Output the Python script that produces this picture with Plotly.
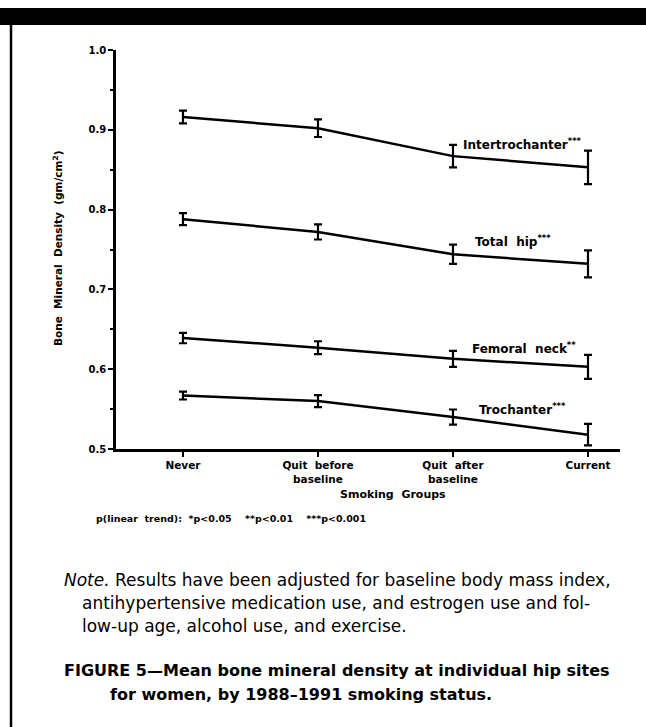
import plotly.graph_objects as go

categories = ["Never", "Quit  before<br>baseline", "Quit  after<br>baseline", "Current"]
cat_pos = [0, 1, 2, 3]

site_names = ["Intertrochanter", "Total  hip", "Femoral  neck", "Trochanter"]
site_stars = ["***", "***", "**", "***"]

intertrochanter = [0.916, 0.902, 0.867, 0.853]
intertrochanter_err = [0.008, 0.011, 0.014, 0.021]
total_hip = [0.788, 0.772, 0.744, 0.732]
total_hip_err = [0.0075, 0.0095, 0.012, 0.017]
femoral_neck = [0.639, 0.627, 0.613, 0.603]
femoral_neck_err = [0.0065, 0.008, 0.010, 0.015]
trochanter = [0.567, 0.560, 0.540, 0.518]
trochanter_err = [0.005, 0.0075, 0.0095, 0.0135]

y_tick_vals = [0.5, 0.6, 0.7, 0.8, 0.9, 1.0]
y_tick_text = ["0.5", "0.6", "0.7", "0.8", "0.9", "1.0"]

series = [intertrochanter, total_hip, femoral_neck, trochanter]
errors = [intertrochanter_err, total_hip_err, femoral_neck_err, trochanter_err]

W, H = 646, 727
L, R, T, B = 116, 620, 50, 449

def px(x):
    return (x - L) / (R - L)

def py(y):
    return (B - y) / (B - T)

HEAVY = "DejaVu Sans"
BODY = "DejaVu Sans"

fig = go.Figure()
for vals, errs, name in zip(series, errors, site_names):
    fig.add_trace(go.Scatter(
        x=cat_pos, y=vals, mode="lines", name=name,
        line=dict(color="black", width=2.5),
        error_y=dict(type="data", array=errs, visible=True,
                     color="black", thickness=2.2, width=4),
        showlegend=False, hoverinfo="skip",
    ))

# label positions (pixels) for each series
label_pos = [(461, 144), (473, 241), (470, 348), (477, 409)]
annotations = []
for (lx, ly), name, st in zip(label_pos, site_names, site_stars):
    annotations.append(dict(
        x=px(lx), y=py(ly), xref="paper", yref="paper",
        text=f"<b>{name}<sup>{st}</sup></b>", showarrow=False,
        xanchor="left", yanchor="middle",
        font=dict(family=HEAVY, size=12, color="black"),
    ))

annotations += [
    dict(x=px(57), y=py(249), xref="paper", yref="paper", textangle=-90,
         text="<b>Bone  Mineral  Density  (gm/cm<sup>2</sup>)</b>", showarrow=False,
         xanchor="center", yanchor="middle",
         font=dict(family=HEAVY, size=10.5, color="black")),
    dict(x=px(393), y=py(494), xref="paper", yref="paper",
         text="<b>Smoking  Groups</b>", showarrow=False,
         xanchor="center", yanchor="middle",
         font=dict(family=HEAVY, size=11, color="black")),
    dict(x=px(94), y=py(518), xref="paper", yref="paper",
         text="<b>p(linear  trend):  *p<0.05    **p<0.01    ***p<0.001</b>", showarrow=False,
         xanchor="left", yanchor="middle",
         font=dict(family=HEAVY, size=9.5, color="black")),
    dict(x=px(62), y=py(580), xref="paper", yref="paper",
         text="<i>Note.</i> Results have been adjusted for baseline body mass index,", showarrow=False,
         xanchor="left", yanchor="middle",
         font=dict(family=BODY, size=17, color="black")),
    dict(x=px(80), y=py(603), xref="paper", yref="paper",
         text="antihypertensive medication use, and estrogen use and fol-", showarrow=False,
         xanchor="left", yanchor="middle",
         font=dict(family=BODY, size=17, color="black")),
    dict(x=px(80), y=py(626), xref="paper", yref="paper",
         text="low-up age, alcohol use, and exercise.", showarrow=False,
         xanchor="left", yanchor="middle",
         font=dict(family=BODY, size=17, color="black")),
    dict(x=px(62), y=py(670), xref="paper", yref="paper",
         text="<b>FIGURE 5—Mean bone mineral density at individual hip sites</b>", showarrow=False,
         xanchor="left", yanchor="middle",
         font=dict(family=HEAVY, size=16, color="black")),
    dict(x=px(108), y=py(694), xref="paper", yref="paper",
         text="<b>for women, by 1988–1991 smoking status.</b>", showarrow=False,
         xanchor="left", yanchor="middle",
         font=dict(family=HEAVY, size=16, color="black")),
]

shapes = [
    dict(type="rect", xref="paper", yref="paper",
         x0=px(0), x1=px(W), y0=py(25), y1=py(8),
         fillcolor="black", line=dict(width=0)),
    dict(type="line", xref="paper", yref="paper",
         x0=px(11), x1=px(11), y0=py(25), y1=py(H),
         line=dict(color="black", width=2.5)),
]

fig.update_layout(
    width=W, height=H,
    margin=dict(l=L, r=W - R, t=T, b=H - B),
    paper_bgcolor="white", plot_bgcolor="white",
    annotations=annotations, shapes=shapes,
    font=dict(family=HEAVY, color="black"),
)
fig.update_xaxes(
    range=[-0.496, 3.237], tickvals=cat_pos,
    ticktext=[f"<b>{c}</b>" for c in categories],
    showline=True, linecolor="black", linewidth=2.5,
    ticks="outside", ticklen=5, tickwidth=2, tickcolor="black",
    showgrid=False, zeroline=False,
    tickfont=dict(family=HEAVY, size=10.5, color="black"),
)
fig.update_yaxes(
    range=[0.5, 1.0], tickvals=y_tick_vals,
    ticktext=[f"<b>{t}</b>" for t in y_tick_text],
    showline=True, linecolor="black", linewidth=2.5,
    ticks="outside", ticklen=5, tickwidth=2, tickcolor="black",
    minor=dict(dtick=0.05, ticks="outside", ticklen=3, tickwidth=2, tickcolor="black"),
    showgrid=False, zeroline=False,
    tickfont=dict(family=HEAVY, size=10, color="black"),
)

fig.write_html(
    "out.html",
    config={"displayModeBar": False},
    post_script="document.body.style.margin='0';document.body.style.overflow='hidden';",
)
